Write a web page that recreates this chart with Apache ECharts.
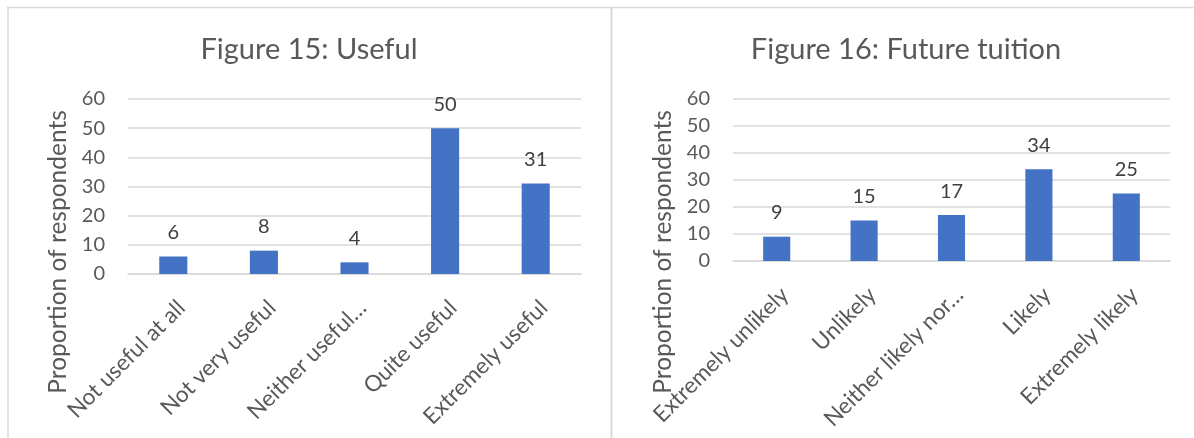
<!DOCTYPE html>
<html>
<head>
<meta charset="utf-8">
<script src="https://cdn.jsdelivr.net/npm/echarts@6/dist/echarts.min.js"></script>
<style>
  html, body { margin: 0; padding: 0; background: #ffffff; }
  #chart { width: 1194px; height: 438px; }
</style>
</head>
<body>
<div id="chart"></div>
<script>
// Figure 15: how useful respondents found it
const usefulTitle = 'Figure 15: Useful';
const usefulCats = ['Not useful at all', 'Not very useful', 'Neither useful…', 'Quite useful', 'Extremely useful'];
const usefulVals = [6, 8, 4, 50, 31];

// Figure 16: likelihood of future tuition
const tuitionTitle = 'Figure 16: Future tuition';
const tuitionCats = ['Extremely unlikely', 'Unlikely', 'Neither likely nor…', 'Likely', 'Extremely likely'];
const tuitionVals = [9, 15, 17, 34, 25];

const yAxisTitle = 'Proportion of respondents';
const yMin = 0, yMax = 60, yStep = 10;

const FONT = 'Lato, "Open Sans", sans-serif';
const GREY_TEXT = '#595959';
const DARK_TEXT = '#404040';
const GRID_LINE = '#d9d9d9';
const BAR = '#4472C4';

const chart = echarts.init(document.getElementById('chart'), null, { renderer: 'canvas' });

function xAxisFor(idx, cats) {
  return {
    type: 'category', gridIndex: idx, data: cats,
    axisTick: { show: false },
    axisLine: { lineStyle: { color: GRID_LINE, width: 1.5 } },
    axisLabel: {
      rotate: 45, interval: 0, margin: 22, align: 'right', verticalAlign: 'top',
      color: GREY_TEXT, fontSize: 22.5, fontFamily: FONT
    }
  };
}
function yAxisFor(idx) {
  return {
    type: 'value', gridIndex: idx, min: yMin, max: yMax, interval: yStep,
    axisLine: { show: false }, axisTick: { show: false },
    splitLine: { lineStyle: { color: GRID_LINE, width: 1.5 } },
    axisLabel: { margin: 23, color: GREY_TEXT, fontSize: 20, fontFamily: FONT }
  };
}
function barSeries(idx, vals) {
  return {
    type: 'bar', xAxisIndex: idx, yAxisIndex: idx, data: vals,
    barWidth: '31%',
    itemStyle: { color: BAR },
    label: { show: true, position: 'top', distance: 14, color: DARK_TEXT, fontSize: 20, fontFamily: FONT },
    silent: true
  };
}

const titleStyle = { color: GREY_TEXT, fontSize: 29, fontWeight: 'normal', fontFamily: FONT };

chart.setOption({
  animation: false,
  title: [
    { text: usefulTitle, left: 304, top: 30, textAlign: 'center', textStyle: titleStyle },
    { text: tuitionTitle, left: 901, top: 30, textAlign: 'center', textStyle: titleStyle }
  ],
  grid: [
    { left: 128, top: 99, width: 453, height: 175 },
    { left: 733, top: 99, width: 437, height: 162 }
  ],
  xAxis: [xAxisFor(0, usefulCats), xAxisFor(1, tuitionCats)],
  yAxis: [yAxisFor(0), yAxisFor(1)],
  series: [barSeries(0, usefulVals), barSeries(1, tuitionVals)],
  graphic: [
    // panel borders
    { type: 'line', shape: { x1: 7, y1: 7.5, x2: 1194, y2: 7.5 }, style: { stroke: GRID_LINE, lineWidth: 1.5 } },
    { type: 'line', shape: { x1: 8, y1: 7, x2: 8, y2: 438 }, style: { stroke: GRID_LINE, lineWidth: 1.5 } },
    { type: 'line', shape: { x1: 611.5, y1: 7, x2: 611.5, y2: 438 }, style: { stroke: GRID_LINE, lineWidth: 2 } },
    // vertical axis titles
    { type: 'text', x: 58, y: 252, rotation: Math.PI / 2,
      style: { text: yAxisTitle, fill: GREY_TEXT, fontSize: 24.5, fontFamily: FONT, align: 'center', verticalAlign: 'middle' } },
    { type: 'text', x: 663, y: 252, rotation: Math.PI / 2,
      style: { text: yAxisTitle, fill: GREY_TEXT, fontSize: 24.5, fontFamily: FONT, align: 'center', verticalAlign: 'middle' } }
  ]
});
</script>
</body>
</html>
